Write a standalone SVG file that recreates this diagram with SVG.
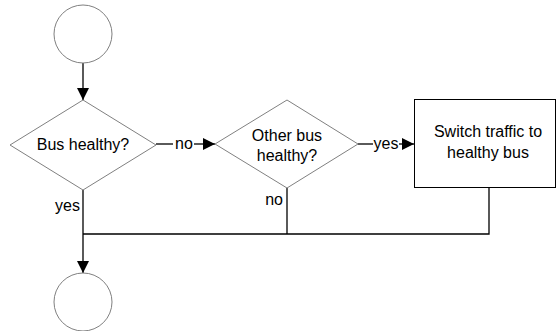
<svg xmlns="http://www.w3.org/2000/svg" width="557" height="331" viewBox="0 0 557 331">
<style>
.shape{fill:#fff;stroke:#808080;stroke-width:1}
.box{fill:#fff;stroke:#000;stroke-width:1}
.conn{fill:none;stroke:#000;stroke-width:1.3}
.t{font-family:"Liberation Sans",Arial,sans-serif;font-size:16px;fill:#000}
.c{text-anchor:middle}
</style>
<defs>
<marker id="ah" markerWidth="12" markerHeight="12" refX="12" refY="6" orient="auto" markerUnits="userSpaceOnUse">
<path d="M0,0 L12,6 L0,12 Z" fill="#000"/>
</marker>
</defs>
<rect width="557" height="331" fill="#fff"/>
<g id="connectors">
<line class="conn" x1="83" y1="63" x2="83" y2="100" marker-end="url(#ah)"/>
<line class="conn" x1="156" y1="144" x2="173" y2="144"/>
<line class="conn" x1="194" y1="144" x2="215" y2="144" marker-end="url(#ah)"/>
<line class="conn" x1="358" y1="144" x2="373" y2="144"/>
<line class="conn" x1="399" y1="144" x2="414" y2="144" marker-end="url(#ah)"/>
<polyline class="conn" points="489,187 489,234 83,234"/>
<line class="conn" x1="287" y1="188" x2="287" y2="234"/>
<line class="conn" x1="83" y1="190" x2="83" y2="273" marker-end="url(#ah)"/>
<text class="t" x="184" y="149" text-anchor="middle">no</text>
<text class="t" x="386" y="149" text-anchor="middle">yes</text>
<text class="t" x="80" y="211" text-anchor="end">yes</text>
<text class="t" x="283" y="205" text-anchor="end">no</text>
</g>
<g id="start">
<circle class="shape" cx="83" cy="34" r="29"/>
</g>
<g id="bus-healthy">
<polygon class="shape" points="83,100 156,145 83,190 10,145"/>
<text class="t c" x="83" y="150">Bus healthy?</text>
</g>
<g id="other-bus-healthy">
<polygon class="shape" points="287,100 358,144 287,188 215,144"/>
<text class="t c" x="287" y="141">Other bus</text>
<text class="t c" x="287" y="161">healthy?</text>
</g>
<g id="switch-traffic">
<rect class="box" x="414.5" y="99.5" width="141" height="88"/>
<text class="t c" x="488" y="137">Switch traffic to</text>
<text class="t c" x="488" y="158">healthy bus</text>
</g>
<g id="end">
<circle class="shape" cx="83" cy="302" r="29"/>
</g>
</svg>
